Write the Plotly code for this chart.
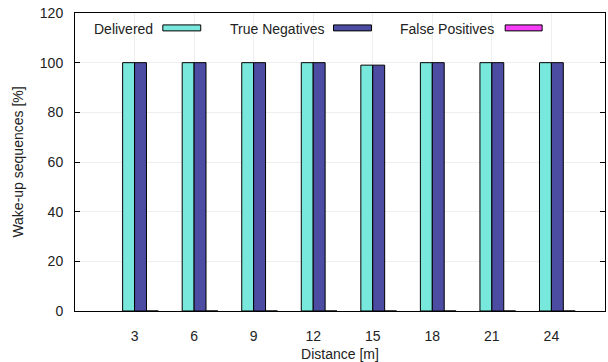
import plotly.graph_objects as go

distances = ["3", "6", "9", "12", "15", "18", "21", "24"]
delivered = [100, 100, 100, 100, 99, 100, 100, 100]
true_negatives = [100, 100, 100, 100, 99, 100, 100, 100]
false_positives = [0, 0, 0, 0, 0, 0, 0, 0]

series = [
    ("Delivered", delivered, "#79e8dc", -0.2),
    ("True Negatives", true_negatives, "#4b4ca2", 0.0),
    ("False Positives", false_positives, "#f53ef5", 0.2),
]

W, H = 608, 362
L, R, T, B = 75, 606, 13, 313
FONT = "Liberation Sans, Arial, Helvetica, sans-serif"

fig = go.Figure()
for name, vals, col, off in series:
    fig.add_trace(go.Bar(
        x=distances, y=vals, name=name, width=0.2, offset=off,
        marker=dict(color=col, line=dict(color="black", width=1)),
        showlegend=False,
    ))

def px(x):
    return (x - L) / (R - L)

def py(y):
    return (B - y) / (B - T)

# legend (gnuplot style: text then sample)
legend_items = [
    ("Delivered", "#79e8dc", 155, 163, 201),
    ("True Negatives", "#4b4ca2", 326, 334, 372),
    ("False Positives", "#f53ef5", 497, 506, 543),
]
for text, col, tx, sx0, sx1 in legend_items:
    fig.add_annotation(x=px(tx), y=py(29), xref="paper", yref="paper",
                       text=text, showarrow=False, xanchor="right", yanchor="middle",
                       font=dict(size=14, color="#222", family=FONT))
    fig.add_shape(type="rect", xref="paper", yref="paper",
                  x0=px(sx0), x1=px(sx1), y0=py(25), y1=py(31),
                  fillcolor=col, line=dict(color="black", width=1))

fig.update_layout(
    width=W, height=H,
    margin=dict(l=L, r=W - R, t=T, b=H - B),
    paper_bgcolor="white", plot_bgcolor="white",
    barmode="overlay",
    font=dict(family=FONT, size=14, color="#222"),
    xaxis=dict(
        type="category", range=[-1, 7.9],
        showline=True, linecolor="black", linewidth=1, mirror=True,
        showgrid=True, gridcolor="#eeeeee", gridwidth=1,
        ticks="", ticklabelstandoff=12,
        title=dict(text="Distance [m]", standoff=6, font=dict(size=14)),
    ),
    yaxis=dict(
        range=[0, 120], tickvals=[0, 20, 40, 60, 80, 100, 120],
        showline=True, linecolor="black", linewidth=1, mirror="ticks",
        showgrid=True, gridcolor="#eeeeee", gridwidth=1,
        ticks="inside", ticklen=5, tickcolor="black",
        ticklabelstandoff=8, zeroline=False,
        title=dict(text="Wake-up sequences [%]", standoff=12, font=dict(size=14)),
    ),
)

fig.write_html("out.html")
